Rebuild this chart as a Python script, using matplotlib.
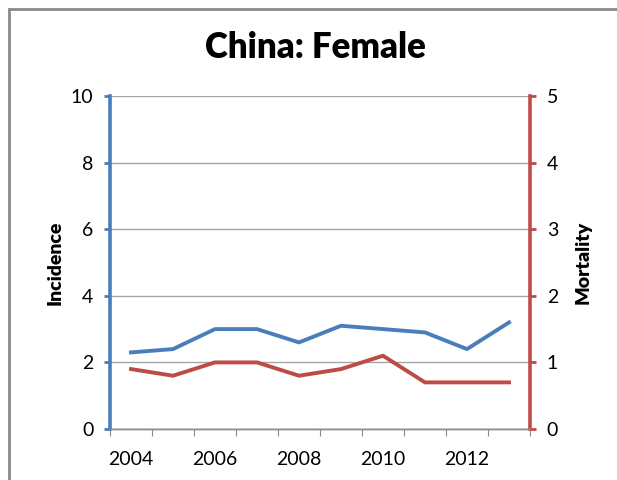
import matplotlib
matplotlib.use("Agg")
import matplotlib.pyplot as plt
import matplotlib.ticker as tik
from matplotlib.patches import Rectangle

plt.rcParams['font.family'] = ['Lato', 'DejaVu Sans']

# data
years = [2004, 2005, 2006, 2007, 2008, 2009, 2010, 2011, 2012, 2013]
incidence = [2.3, 2.4, 3.0, 3.0, 2.6, 3.1, 3.0, 2.9, 2.4, 3.2]
mortality = [0.9, 0.8, 1.0, 1.0, 0.8, 0.9, 1.1, 0.7, 0.7, 0.7]
year_labels = [2004, 2006, 2008, 2010, 2012]

blue = "#4a7ebb"
red = "#be4b48"

fig = plt.figure(figsize=(6.17, 4.8), dpi=100)
W, H = 617, 480
ax = fig.add_axes([110 / W, 51 / H, 420 / W, 333 / H])
ax2 = ax.twinx()

# outer frame
fig.patches.append(Rectangle((9 / W, -0.1), 1.2, 1.1 - 9 / H, transform=fig.transFigure,
                             fill=False, edgecolor="#8a8a8a", linewidth=2))

ax.set_xlim(2003.5, 2013.5)
ax.set_ylim(0, 10)
ax2.set_ylim(0, 5)

ax.yaxis.set_major_locator(tik.MultipleLocator(2))
ax2.yaxis.set_major_locator(tik.MultipleLocator(1))
ax.grid(axis="y", color="#a6a6a6", linewidth=1)
ax.set_axisbelow(True)

ax.plot(years, incidence, color=blue, linewidth=2.8, zorder=3)
ax2.plot(years, mortality, color=red, linewidth=2.8, zorder=3)

# x axis: ticks between categories, labels at every other year
ax.set_xticks([y - 0.5 for y in years] + [2013.5])
ax.set_xticklabels([])
ax.set_xticks(year_labels, minor=True)
ax.set_xticklabels([str(y) for y in year_labels], minor=True)
ax.tick_params(axis="x", which="major", length=5, color="#8a8a8a", direction="out")
ax.tick_params(axis="x", which="minor", length=0, pad=16, labelsize=14)

for a in (ax, ax2):
    a.spines["top"].set_visible(False)
    a.spines["bottom"].set_color("#8a8a8a")
    a.spines["bottom"].set_linewidth(1)
ax.spines["right"].set_visible(False)
ax2.spines["left"].set_visible(False)
ax.spines["left"].set_color(blue)
ax.spines["left"].set_linewidth(2.6)
ax2.spines["right"].set_color(red)
ax2.spines["right"].set_linewidth(2.6)

ax.tick_params(axis="y", length=4, width=2, color=blue, labelsize=14, pad=8)
ax2.tick_params(axis="y", length=4, width=2, color=red, labelsize=14, pad=8)

ax.set_ylabel("Incidence", fontsize=14, fontweight="heavy", labelpad=5)
ax2.set_ylabel("Mortality", fontsize=14, fontweight="heavy", rotation=90, labelpad=12)

fig.text(315 / W, 1 - 47 / H, "China: Female", ha="center", va="center",
         fontsize=25, fontweight="heavy")

fig.savefig("out.png", dpi=100)
